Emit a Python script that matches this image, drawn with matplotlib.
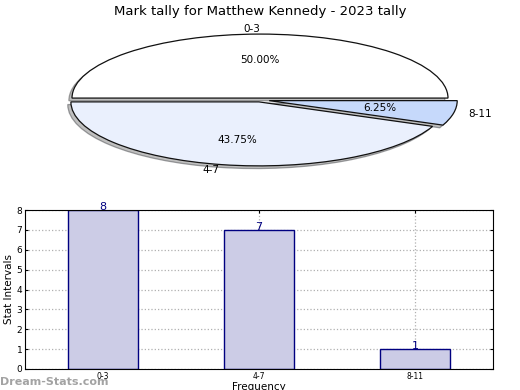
import matplotlib
matplotlib.use("Agg")
import matplotlib.pyplot as plt

# Pie data
slice_labels = ["0-3", "4-7", "8-11"]
slice_values = [8, 7, 1]
slice_colors = ["#ffffff", "#eaf0fd", "#c6d9fb"]
slice_explode = [0.03, 0.03, 0.05]

# Bar data
bar_labels = ["0-3", "4-7", "8-11"]
bar_values = [8, 7, 1]
y_ticks = [0, 1, 2, 3, 4, 5, 6, 7, 8]

fig = plt.figure(figsize=(5.2, 3.9), dpi=100)
fig.text(0.5, 0.988, "Mark tally for Matthew Kennedy - 2023 tally",
         ha="center", va="top", fontsize=9.5)

# Top: squashed pie with a thin grey shadow
ax1 = fig.add_axes([60 / 520, 210 / 390, 400 / 520, 160 / 390])
wedges, texts, autotexts = ax1.pie(
    slice_values, labels=slice_labels, colors=slice_colors,
    explode=slice_explode, startangle=0, counterclock=True,
    autopct="%.2f%%", pctdistance=0.6, labeldistance=1.08,
    shadow={"ox": -0.012, "oy": -0.03, "facecolor": "#808080"},
    wedgeprops={"edgecolor": "#111111", "linewidth": 0.9},
    textprops={"fontsize": 7.5},
)
ax1.set_aspect("auto")
ax1.set_xlim(-200 / 188, 200 / 188)
ax1.set_ylim(-80 / 64, 80 / 64)
ax1.axis("off")

# Bottom: bar chart
ax2 = fig.add_axes([25 / 520, 21 / 390, 468 / 520, 159 / 390])
x = range(len(bar_values))
ax2.bar(x, bar_values, width=0.45, color="#ccccE6", edgecolor="#000080",
        linewidth=1, zorder=2)
for xi, v in zip(x, bar_values):
    ax2.text(xi, v - 0.1, str(v), ha="center", va="bottom", color="#000080",
             fontsize=8, zorder=3)
ax2.set_xlim(-0.5, 2.5)
ax2.set_ylim(0, 8)
ax2.set_xticks(list(x))
ax2.set_xticklabels(bar_labels, fontsize=5.5)
ax2.set_yticks(y_ticks)
ax2.tick_params(axis="y", labelsize=6.5, direction="in", length=2,
                right=True, pad=2)
ax2.tick_params(axis="x", direction="in", length=2, top=True, pad=2)
ax2.grid(True, linestyle=":", color="#b0b0b0", linewidth=0.9, zorder=0)
ax2.set_axisbelow(True)
ax2.set_ylabel("Stat Intervals", fontsize=7.5, labelpad=2)
ax2.set_xlabel("Frequency", fontsize=7.5, labelpad=1)

# Watermark
fig.text(0.0, 0.008, "Dream-Stats.com", ha="left", va="bottom",
         color="#999999", fontsize=8, fontweight="bold", alpha=0.9)

fig.savefig("out.png", dpi=100)
